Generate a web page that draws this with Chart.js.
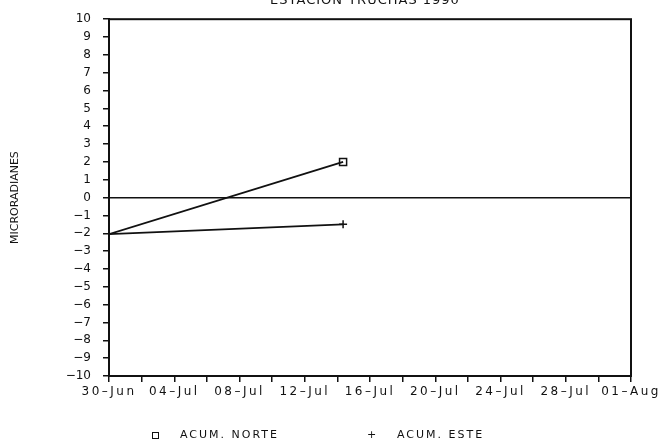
<!DOCTYPE html>
<html>
<head>
<meta charset="utf-8">
<script src="https://cdn.jsdelivr.net/npm/chart.js@4.4.0/dist/chart.umd.min.js"></script>
<style>
  html, body { margin: 0; padding: 0; background: #fff; }
  #wrap { position: relative; width: 660px; height: 442px; }
  #legend {
    position: absolute; top: 428px; left: 0; width: 660px; height: 14px;
    font-family: "DejaVu Sans", sans-serif; font-size: 11px; letter-spacing: 2px; color: #111;
  }
  #legend span { position: absolute; top: 0; line-height: 14px; }
  .box { width: 5px; height: 5px; border: 1.5px solid #111; top: 4px !important; }
</style>
</head>
<body>
<div id="wrap">
  <canvas id="chart" width="660" height="442"></canvas>
  <div id="legend">
    <span class="box" style="left:152px"></span>
    <span style="left:180px">ACUM. NORTE</span>
    <span style="left:367px">+</span>
    <span style="left:397px">ACUM. ESTE</span>
  </div>
</div>
<script>
// dias desde el 30-Jun
const dias = [0, 14.35];
const acumNorte = [-2.05, 2.0];
const acumEste = [-2.05, -1.5];
const xTickLabels = ['30-Jun', '04-Jul', '08-Jul', '12-Jul', '16-Jul', '20-Jul', '24-Jul', '28-Jul', '01-Aug'];
const titulo = 'ESTACION TRUCHAS 1990';

const ink = '#111';
const font = 'DejaVu Sans';

const marcoPlugin = {
  id: 'marco',
  afterLayout(chart) {
    // etiquetas de fechas mas anchas, como en el original
    const s = chart.scales.x;
    if (!s._ancho) {
      const orig = s.drawLabels.bind(s);
      s.drawLabels = area => {
        chart.ctx.save();
        chart.ctx.letterSpacing = '2.5px';
        orig(area);
        chart.ctx.restore();
      };
      s._ancho = true;
    }
  },
  afterDraw(chart) {
    const { ctx, chartArea: a } = chart;
    ctx.save();
    ctx.strokeStyle = ink;
    ctx.lineWidth = 2;
    ctx.strokeRect(a.left, a.top, a.right - a.left, a.bottom - a.top);
    ctx.fillStyle = ink;
    ctx.font = '13px "' + font + '"';
    ctx.letterSpacing = '1px';
    ctx.textAlign = 'center';
    ctx.textBaseline = 'middle';
    ctx.fillText(titulo, 365, 1);
    ctx.restore();
  }
};

const toPoints = ys => ys.map((y, i) => ({ x: dias[i], y }));

new Chart(document.getElementById('chart'), {
  type: 'line',
  data: {
    datasets: [
      {
        label: 'ACUM. NORTE',
        data: toPoints(acumNorte),
        borderColor: ink,
        borderWidth: 1.8,
        pointStyle: 'rect',
        pointRadius: [0, 5],
        pointBorderColor: ink,
        pointBackgroundColor: 'rgba(0,0,0,0)',
        pointBorderWidth: 1.5,
      },
      {
        label: 'ACUM. ESTE',
        data: toPoints(acumEste),
        borderColor: ink,
        borderWidth: 1.8,
        pointStyle: 'cross',
        pointRadius: [0, 4],
        pointBorderColor: ink,
        pointBorderWidth: 1.5,
      }
    ]
  },
  options: {
    responsive: false,
    animation: false,
    layout: { padding: { top: 16, right: 29, left: 0, bottom: 0 } },
    plugins: {
      legend: { display: false },
      tooltip: { enabled: false }
    },
    scales: {
      x: {
        type: 'linear',
        min: 0,
        max: 32,
        afterFit: s => { s.height = 66; },
        border: { color: ink, width: 2 },
        grid: { drawOnChartArea: false, tickLength: 6, color: ink, lineWidth: 1.5 },
        ticks: {
          stepSize: 2,
          autoSkip: false,
          maxRotation: 0,
          padding: 3,
          color: ink,
          font: { family: font, size: 12 },
          callback: v => (v % 4 === 0 ? xTickLabels[v / 4].replace('-', '\u2013') : '')
        }
      },
      y: {
        min: -10,
        max: 10,
        afterFit: s => { s.width = 109; },
        border: { color: ink, width: 2 },
        grid: {
          tickLength: 6,
          lineWidth: 1.5,
          color: c => (c.tick && c.tick.value === 0 ? ink : 'rgba(0,0,0,0)'),
          tickColor: ink
        },
        ticks: {
          stepSize: 1,
          padding: 12,
          color: ink,
          font: { family: font, size: 12 },
          callback: v => String(v).replace('-', '\u2212')
        },
        title: {
          display: true,
          text: 'MICRORADIANES',
          color: ink,
          font: { family: font, size: 11 },
          padding: { top: 9, bottom: 0 }
        }
      }
    }
  },
  plugins: [marcoPlugin]
});
</script>
</body>
</html>
